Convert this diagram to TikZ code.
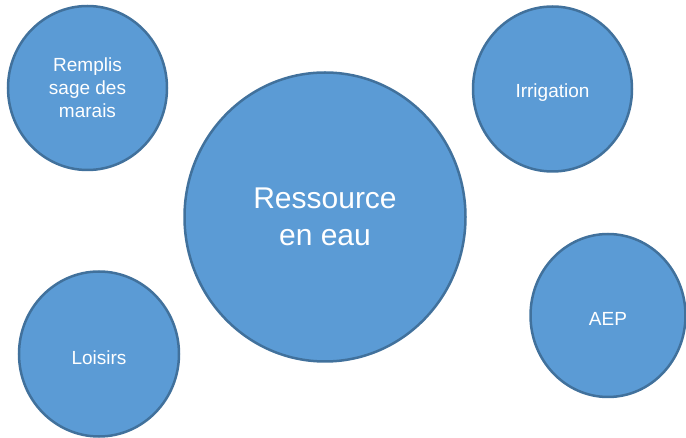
\documentclass[tikz,border=0pt]{standalone}
\usepackage{fontspec}
\setmainfont{Liberation Sans}
\usetikzlibrary{shapes.geometric}
\definecolor{bulle}{HTML}{5B9BD5}
\definecolor{bord}{HTML}{41719C}

\begin{document}
\begin{tikzpicture}[x=1pt, y=-1pt,
    usage/.style={ellipse, draw=bord, fill=bulle, line width=2.5pt, inner sep=0pt,
      text=white, align=center, font=\fontsize{19}{23}\selectfont,
      execute at begin node={\rule{0pt}{1.08em}}},
    ressource/.style={usage, font=\fontsize{30}{37}\selectfont,
      execute at begin node={\rule{0pt}{0.9em}}}]
        \useasboundingbox (0,0) rectangle (686,438);

        \node[ressource, minimum width=281, minimum height=289] (res) at (325,217) {Ressource\\en eau};

        \node[usage, minimum width=159, minimum height=164] (remplis) at (87.5,88) {Remplis\\sage des\\marais};
        \node[usage, minimum width=159, minimum height=165] (irrig) at (552.5,89) {Irrigation};
        \node[usage, minimum width=160, minimum height=165] (loisirs) at (99,354) {Loisirs};
        \node[usage, minimum width=155, minimum height=163] (aep) at (608,315.5) {AEP};
      \end{tikzpicture}
\end{document}
